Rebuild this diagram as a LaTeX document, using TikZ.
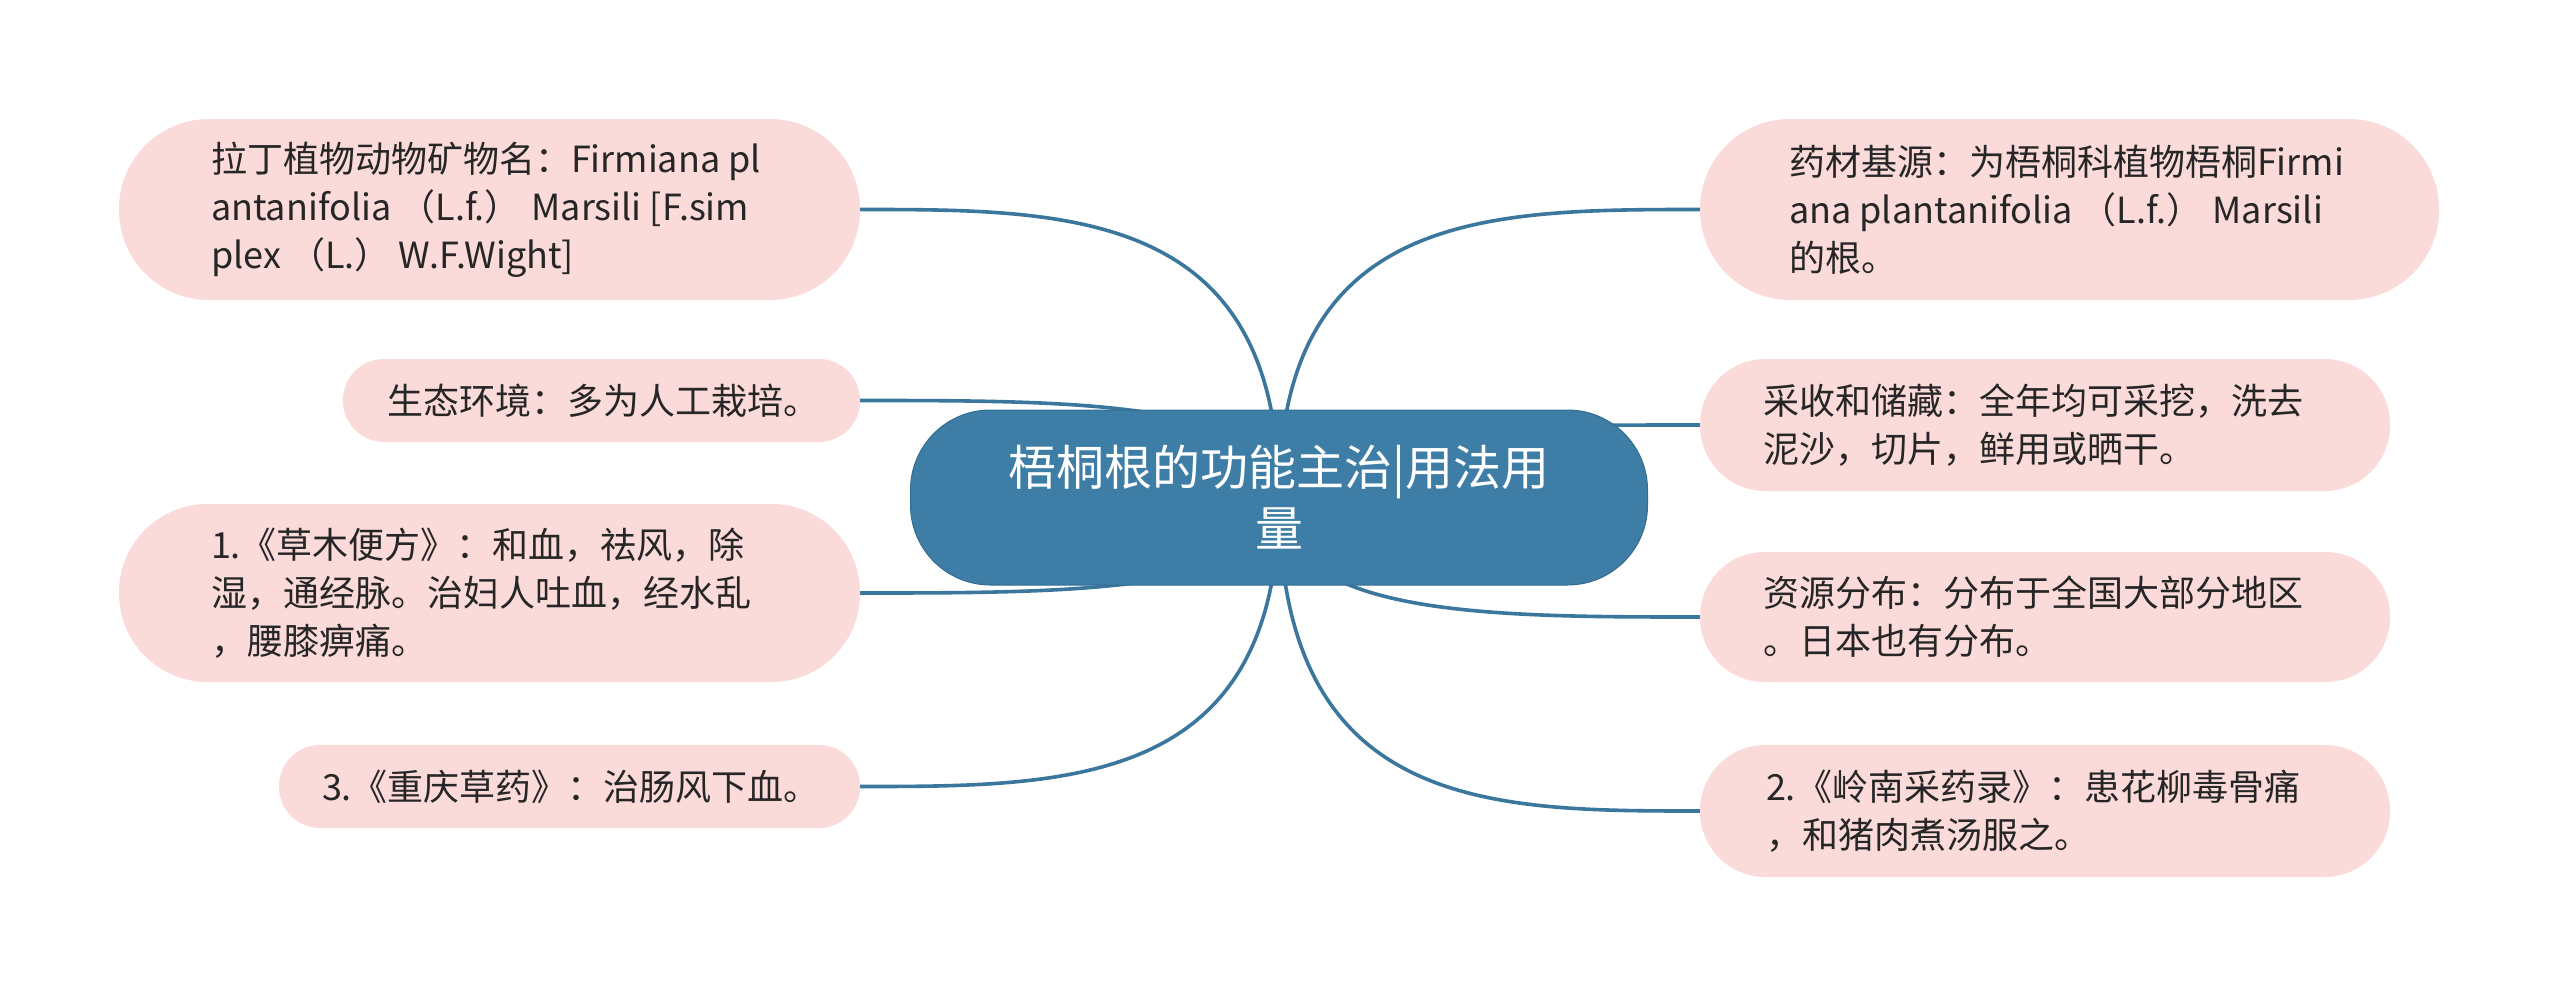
\documentclass[tikz,border=0pt]{standalone}
\usepackage{fontspec}
\setmainfont{Noto Sans CJK SC}
\usetikzlibrary{calc,backgrounds}
\definecolor{hubblue}{RGB}{62,126,166}
\definecolor{hubedge}{RGB}{50,108,145}
\definecolor{branchblue}{RGB}{59,118,156}
\definecolor{leafpink}{RGB}{251,218,218}
\definecolor{leafink}{RGB}{38,38,38}

\begin{document}
\begin{tikzpicture}[x=1pt,y=-1pt,
  leaf/.style 2 args={rectangle,fill=leafpink,inner sep=0pt,
    minimum width=#1,minimum height=#2,rounded corners=#2/2-0.5pt},
  leaftext/.style={anchor=west,align=left,inner sep=0pt,text=leafink,
    font=\fontsize{36}{48}\selectfont},
  branch/.style={draw=branchblue,line width=3.6pt}]
  \useasboundingbox (0,0) rectangle (2560,996);

  % centre topic
  \node[fill=hubblue,draw=hubedge,line width=1pt,rounded corners=80pt,
        minimum width=737pt,minimum height=175pt,align=center,text=white,
        font=\fontsize{48}{61}\selectfont] (hub) at (1279,497.5)
    {梧桐根的功能主治|用法用\\量};

  % left side
  \node[leaf={741pt}{181pt}] (latin) at (489.5,209.5) {};
  \node[leaftext] (latin text) at ([xshift=92pt]latin.west)
    {拉丁植物动物矿物名：Firmiana pl\\antanifolia （L.f.） Marsili [F.sim\\plex （L.） W.F.Wight]};
  \node[leaf={517pt}{83pt}] (habitat) at (601.5,400.5) {};
  \node[leaftext] (habitat text) at ([xshift=44pt]habitat.west)
    {生态环境：多为人工栽培。};
  \node[leaf={741pt}{178pt}] (caomu) at (489.5,593) {};
  \node[leaftext] (caomu text) at ([xshift=92pt]caomu.west)
    {1.《草木便方》：和血，祛风，除\\湿，通经脉。治妇人吐血，经水乱\\，腰膝痹痛。};
  \node[leaf={581pt}{83pt}] (chongqing) at (569.5,786.5) {};
  \node[leaftext] (chongqing text) at ([xshift=43pt]chongqing.west)
    {3.《重庆草药》：治肠风下血。};

  % right side
  \node[leaf={739pt}{181pt}] (origin) at (2069.5,209.5) {};
  \node[leaftext] (origin text) at ([xshift=89pt]origin.west)
    {药材基源：为梧桐科植物梧桐Firmi\\ana plantanifolia （L.f.） Marsili\\的根。};
  \node[leaf={690pt}{132pt}] (harvest) at (2045,425) {};
  \node[leaftext] (harvest text) at ([xshift=63pt]harvest.west)
    {采收和储藏：全年均可采挖，洗去\\泥沙，切片，鲜用或晒干。};
  \node[leaf={690pt}{130pt}] (spread) at (2045,617) {};
  \node[leaftext] (spread text) at ([xshift=63pt]spread.west)
    {资源分布：分布于全国大部分地区\\。日本也有分布。};
  \node[leaf={690pt}{132pt}] (lingnan) at (2045,811) {};
  \node[leaftext] (lingnan text) at ([xshift=66pt]lingnan.west)
    {2.《岭南采药录》：患花柳毒骨痛\\，和猪肉煮汤服之。};

  \begin{scope}[on background layer]
    \foreach \leaf in {latin,habitat,caomu,chongqing}
      \draw[branch] (hub.center) .. controls (hub.center |- \leaf.east)
        and ($(hub.center |- \leaf.east)!0.5!(\leaf.east)$) .. (\leaf.east);
    \foreach \leaf in {origin,harvest,spread,lingnan}
      \draw[branch] (hub.center) .. controls (hub.center |- \leaf.west)
        and ($(hub.center |- \leaf.west)!0.5!(\leaf.west)$) .. (\leaf.west);
  \end{scope}
\end{tikzpicture}
\end{document}
